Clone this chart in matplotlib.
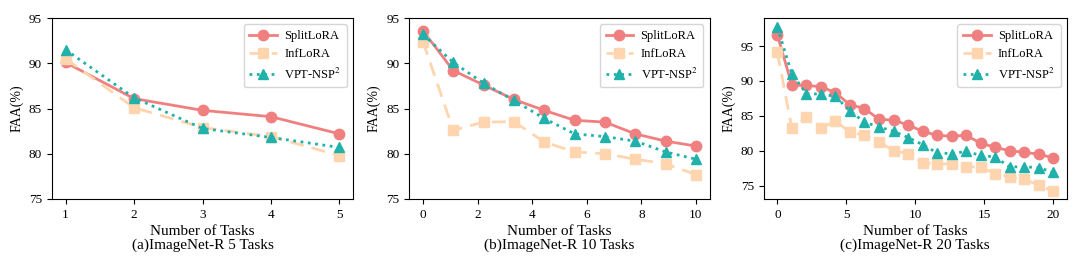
import numpy as np
import matplotlib
matplotlib.use("Agg")
import matplotlib.pyplot as plt

plt.rcParams['font.family'] = ['Liberation Serif', 'DejaVu Serif']
plt.rcParams['mathtext.fontset'] = 'stix'

# (a) ImageNet-R 5 tasks
tasks_a = [1, 2, 3, 4, 5]
split_a = [90.1, 86.1, 84.8, 84.1, 82.2]
inf_a = [90.5, 85.1, 82.9, 81.9, 79.8]
vpt_a = [91.5, 86.2, 82.8, 81.8, 80.7]

# (b) ImageNet-R 10 tasks
split_b = [93.6, 89.2, 87.6, 86.0, 84.8, 83.7, 83.5, 82.2, 81.4, 80.85]
inf_b = [92.4, 82.6, 83.5, 83.55, 81.3, 80.2, 80.0, 79.4, 78.9, 77.7]
vpt_b = [93.2, 90.1, 87.8, 85.9, 83.9, 82.2, 81.9, 81.4, 80.2, 79.4]

# (c) ImageNet-R 20 tasks
split_c = [96.6, 89.4, 89.35, 89.2, 88.3, 86.6, 86.05, 84.5, 84.4, 83.7,
           82.8, 82.2, 82.1, 82.2, 81.1, 80.5, 80.0, 79.8, 79.5, 79.0]
inf_c = [94.1, 83.2, 84.9, 83.3, 84.2, 82.7, 82.2, 81.3, 80.0, 79.6,
         78.3, 78.1, 78.1, 77.7, 77.7, 76.7, 76.25, 75.9, 75.1, 74.2]
vpt_c = [97.7, 91.0, 88.2, 88.1, 87.8, 85.7, 84.1, 83.4, 82.8, 81.9,
         80.9, 79.7, 79.6, 79.9, 79.35, 79.1, 77.7, 77.7, 77.6, 76.9]

tasks_b = np.linspace(0, 10, len(split_b))
tasks_c = np.linspace(0, 20, len(split_c))

captions = ['(a)ImageNet-R 5 Tasks', '(b)ImageNet-R 10 Tasks', '(c)ImageNet-R 20 Tasks']

c_split = '#F08080'
c_inf = '#FFD5B0'
c_vpt = '#20B2AA'

fig = plt.figure(figsize=(10.8, 2.7), dpi=100)
rects = [[0.048, 0.263, 0.279, 0.670],
         [0.379, 0.263, 0.278, 0.670],
         [0.707, 0.263, 0.281, 0.670]]

data = [(tasks_a, split_a, inf_a, vpt_a),
        (tasks_b, split_b, inf_b, vpt_b),
        (tasks_c, split_c, inf_c, vpt_c)]

for i, (x, s, f, v) in enumerate(data):
    ax = fig.add_axes(rects[i])
    ax.plot(x, s, color=c_split, linestyle='-', marker='o', markersize=7.5,
            linewidth=2, label='SplitLoRA')
    ax.plot(x, f, color=c_inf, linestyle='--', marker='s', markersize=7.5,
            linewidth=2, dashes=(5, 3), label='InfLoRA')
    ax.plot(x, v, color=c_vpt, linestyle=':', marker='^', markersize=7.5,
            linewidth=2, label='VPT-NSP$^2$')
    if i < 2:
        ax.set_ylim(75, 95)
    else:
        ax.set_ylim(73.1, 99.0)
    ax.set_yticks([75, 80, 85, 90, 95])
    if i == 0:
        ax.set_xticks(tasks_a)
    elif i == 1:
        ax.set_xticks([0, 2, 4, 6, 8, 10])
    else:
        ax.set_xticks([0, 5, 10, 15, 20])
    ax.tick_params(labelsize=9.5)
    ax.set_ylabel('FAA(%)', fontsize=10)
    ax.set_xlabel('Number of Tasks\n' + captions[i], fontsize=11, linespacing=1.05,
                  labelpad=3)
    ax.legend(loc='upper right', fontsize=9, handlelength=2.2, handletextpad=0.6,
              borderpad=0.45, edgecolor='#cccccc')

fig.savefig('out.png', dpi=100)
